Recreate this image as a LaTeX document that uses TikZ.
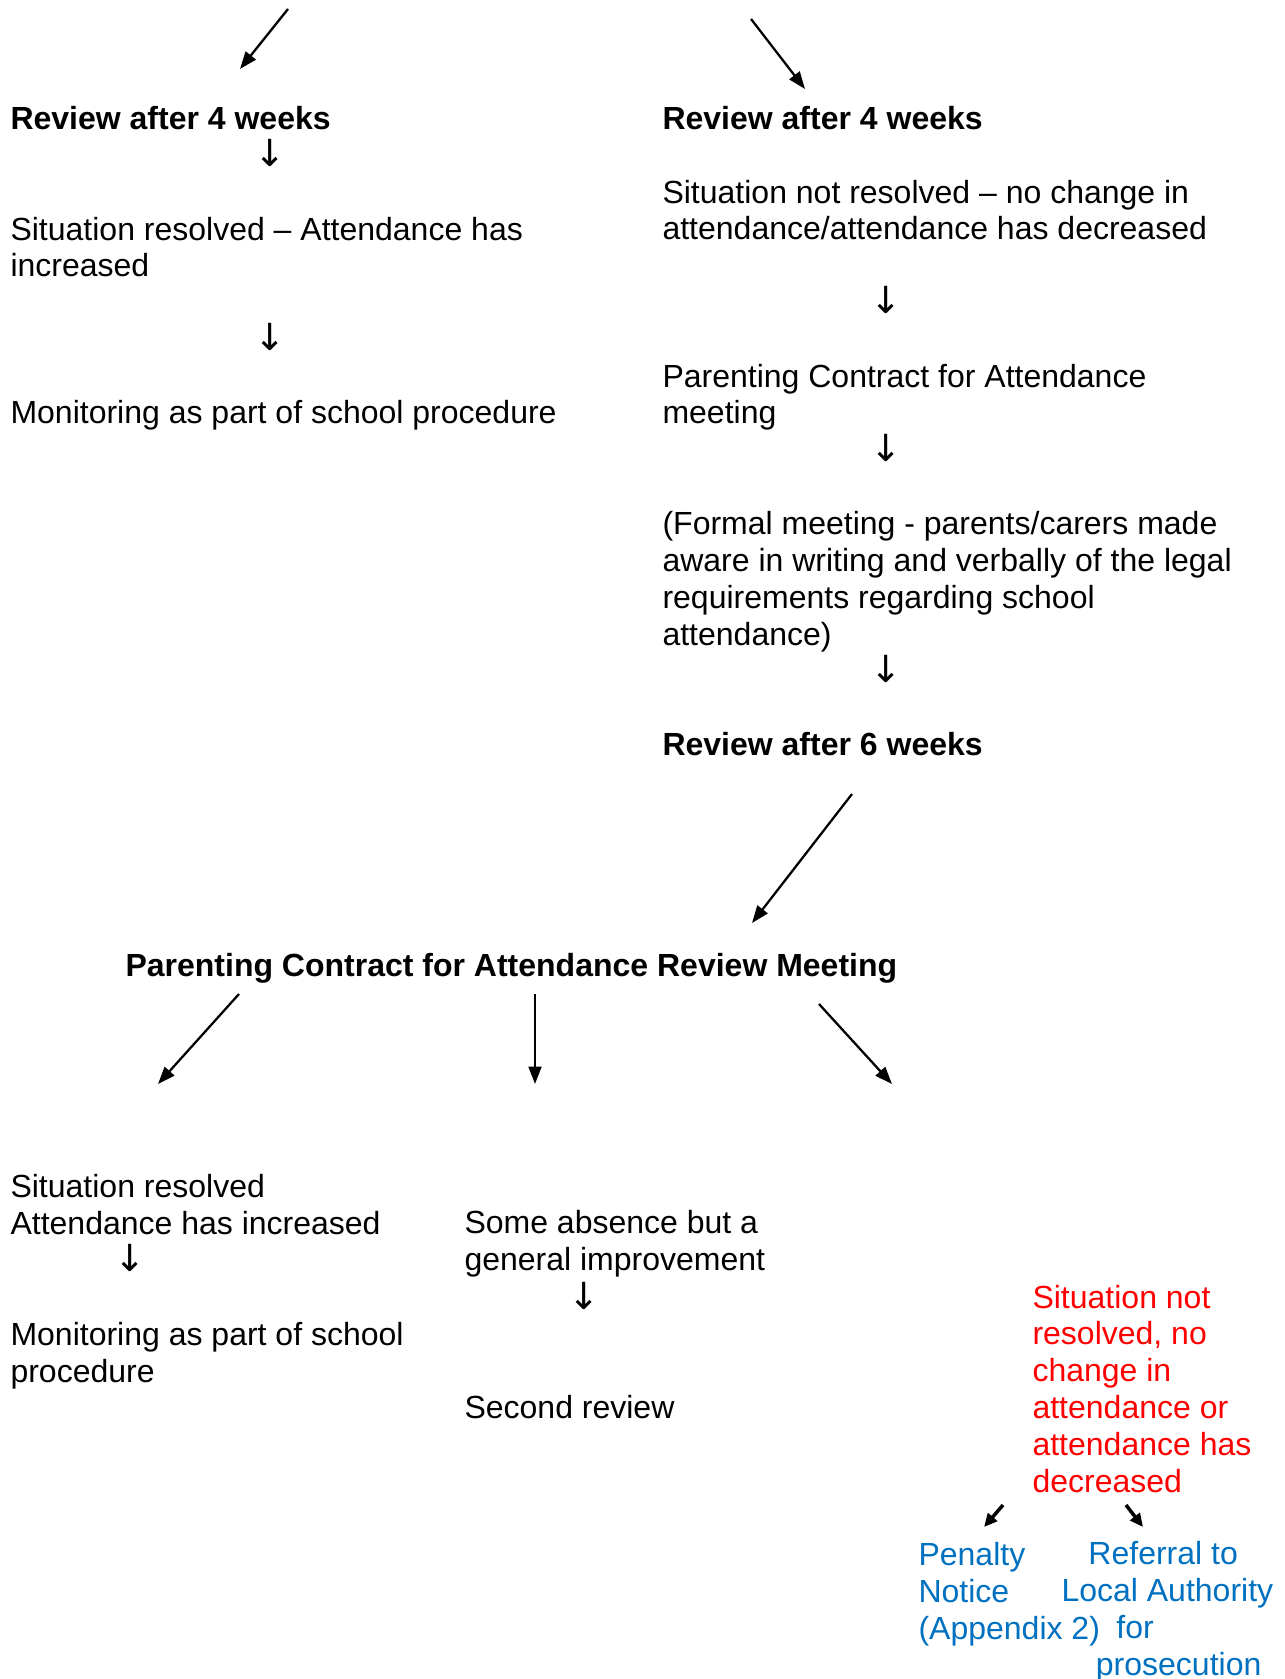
\documentclass[tikz,border=0pt]{standalone}
\usepackage{fontspec}
\setmainfont{Liberation Sans}
\newfontfamily\arrowfont{DejaVu Sans}
\usepackage{xcolor}
\usetikzlibrary{arrows.meta}
\definecolor{notred}{RGB}{255,0,0}
\definecolor{actionblue}{RGB}{0,112,192}

\begin{document}
\begin{tikzpicture}[x=0.375pt, y=-0.375pt,
    every node/.style={inner sep=0pt, font=\fontsize{12}{13.8}\selectfont},
    textnode/.style={anchor=base west, align=left},
    titlenode/.style={textnode, font=\fontsize{12}{13.8}\selectfont\bfseries},
    downnode/.style={anchor=center, font=\arrowfont\fontsize{14}{14}\selectfont},
    arrow/.style={-{Triangle[length=6.5pt, width=4.8pt]}, line width=0.85pt},
    shortarrow/.style={-{Triangle[length=5pt, width=4.5pt]}, line width=1.3pt}]

    \useasboundingbox (0,0) rectangle (1285,1679);

    % Left branch (multi-line nodes sit on their last baseline)
    \coordinate (inl) at (288,9);
    \coordinate (inl end) at (240,69);
    \node[titlenode] (reviewl) at (10,130) {Review after 4 weeks};
    \node[downnode] (downl1) at (270,153) {↓};
    \node[textnode] (resolved) at (10,277) {Situation resolved – Attendance has\\increased};
    \node[downnode] (downl2) at (270,337) {↓};
    \node[textnode] (monitorl) at (10,424) {Monitoring as part of school procedure};

    % Right branch
    \coordinate (inr) at (751,19);
    \coordinate (inr end) at (805,89);
    \node[titlenode] (reviewr) at (662,130) {Review after 4 weeks};
    \node[textnode] (notresolved) at (662,240) {Situation not resolved – no change in\\attendance/attendance has decreased};
    \node[downnode] (downr1) at (886,300) {↓};
    \node[textnode] (contract) at (662,424) {Parenting Contract for Attendance\\meeting};
    \node[downnode] (downr2) at (886,448) {↓};
    \node[textnode] (formal) at (662,645) {(Formal meeting - parents/carers made\\aware in writing and verbally of the legal\\requirements regarding school\\attendance)};
    \node[downnode] (downr3) at (886,669) {↓};
    \node[titlenode] (review6) at (662,755) {Review after 6 weeks};

    % Review meeting
    \coordinate (r6 out) at (852,794);
    \coordinate (r6 end) at (752,923);
    \node[titlenode] (reviewmeeting) at (125,976) {Parenting Contract for Attendance Review Meeting};
    \coordinate (ml) at (239,994);
    \coordinate (ml end) at (158,1084);
    \coordinate (mm) at (535,994);
    \coordinate (mm end) at (535,1084);
    \coordinate (mr) at (819,1004);
    \coordinate (mr end) at (892,1084);

    % Outcomes
    \node[textnode] (improved) at (10,1234) {Situation resolved\\Attendance has increased};
    \node[downnode] (downo1) at (130,1258) {↓};
    \node[textnode] (monitoro) at (10,1382) {Monitoring as part of school\\procedure};
    \node[textnode] (someabsence) at (464,1270) {Some absence but a\\general improvement};
    \node[downnode] (downo2) at (584,1296) {↓};
    \node[textnode] (second) at (464,1418) {Second review};
    \node[textnode, text=notred] (nochange) at (1032,1492) {Situation not\\resolved, no\\change in\\attendance or\\attendance has\\decreased};
    \coordinate (pn) at (1003,1505);
    \coordinate (pn end) at (984,1527);
    \coordinate (la) at (1126,1505);
    \coordinate (la end) at (1143,1527);
    \node[textnode, text=actionblue] (penalty) at (918,1639) {Penalty\\Notice\\(Appendix 2)};
    \node[textnode, text=actionblue] (referral) at (1061,1675) {\hspace*{10.1pt}Referral to\\Local Authority\\\hspace*{20.6pt}for\\\hspace*{12.9pt}prosecution};

    % Arrows
    \draw[arrow] (inl) -- (inl end);
    \draw[arrow] (inr) -- (inr end);
    \draw[arrow] (r6 out) -- (r6 end);
    \draw[arrow] (ml) -- (ml end);
    \draw[arrow] (mm) -- (mm end);
    \draw[arrow] (mr) -- (mr end);
    \draw[shortarrow] (pn) -- (pn end);
    \draw[shortarrow] (la) -- (la end);

\end{tikzpicture}
\end{document}
